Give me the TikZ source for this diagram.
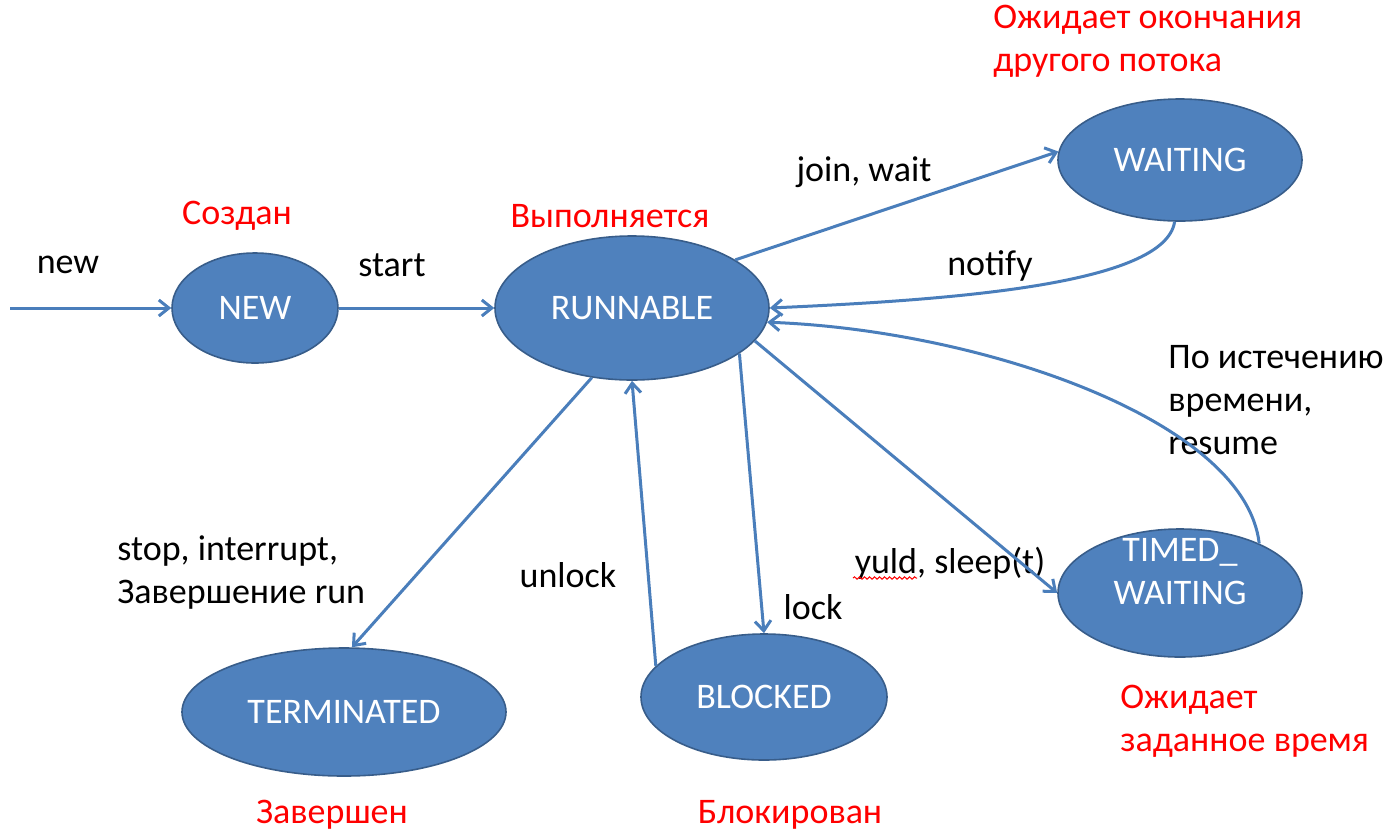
\documentclass[tikz,border=0pt]{standalone}
\usepackage{fontspec}
\setmainfont{Carlito}
\usetikzlibrary{shapes.geometric,arrows.meta,decorations.pathmorphing}
\definecolor{stfill}{RGB}{79,129,189}
\definecolor{stline}{RGB}{56,93,138}
\definecolor{arrline}{RGB}{74,126,187}

\begin{document}
\begin{tikzpicture}[x=0.5pt,y=-0.5pt,
  tstate/.style={ellipse, fill=stfill, draw=stline, line width=0.8pt, inner sep=0pt, text=white, font=\fontsize{18}{21.5}\selectfont},
  lbl/.style={inner sep=0pt, font=\fontsize{18}{21.5}\selectfont, align=left},
  note/.style={lbl, text=red},
  conn/.style={draw=arrline, line width=1.5pt, -{Straight Barb[length=5pt,width=8pt]}}]
\useasboundingbox (0,0) rectangle (1388,832);
\node[tstate, minimum width=83pt, minimum height=55pt] (new) at (255,308) {NEW};
\node[tstate, minimum width=137pt, minimum height=72pt] (run) at (632,308) {RUNNABLE};
\node[tstate, minimum width=122pt, minimum height=61pt] (wait) at (1180,160) {WAITING};
\node[tstate, minimum width=122pt, minimum height=64pt] (timed) at (1180,593) {};
\node[lbl, text=white, align=center] (timedtext) at (1180,572) {TIMED\_\\WAITING};
\node[tstate, minimum width=162pt, minimum height=64pt] (term) at (344,712) {TERMINATED};
\node[tstate, minimum width=123pt, minimum height=63pt] (block) at (764,697) {BLOCKED};
\coordinate (entry) at (10,308);
% labels
\node[lbl] (lnew) at (68,265) {new};
\node[lbl] (lstart) at (392,265) {start};
\node[lbl] (ljoin) at (864,172) {join, wait};
\node[lbl] (lnotify) at (990,266) {notify};
\node[lbl, anchor=west] (ltimeout) at (1168,400) {По истечению\\времени,\\resume};
\node[lbl, anchor=west] (lstop) at (117,573) {stop, interrupt,\\Завершение run};
\node[lbl] (lunlock) at (568,575) {unlock};
\node[lbl] (llock) at (813,607) {lock};
\node[lbl] (lsleep) at (950,563) {yuld, sleep(t)};
\draw[red, line width=0.5pt, decorate, decoration={snake, amplitude=0.6pt, segment length=2.5pt}] (853,578) -- (917,578);
% notes
\node[note] (ncreated) at (237,216) {Создан};
\node[note] (nrunning) at (610,216) {Выполняется};
\node[note, anchor=west] (nwaiting) at (993,41) {Ожидает окончания\\другого потока};
\node[note] (ndone) at (332,815) {Завершен};
\node[note] (nblocked) at (790,815) {Блокирован};
\node[note, anchor=west] (ntimed) at (1120,721) {Ожидает\\заданное время};
% connectors
\draw[conn] (entry) -- (new);
\draw[conn] (new) -- (run);
\draw[conn] (run.25) -- (wait.176);
\draw[conn] (wait.265) .. controls (1165,285) and (950,300) .. (run.east);
\draw[conn] (timed.32) .. controls (1245,420) and (980,330) .. (run.-6);
\draw[conn] (run.-15) -- (timed.west);
\draw[conn] (run.-23) -- (block.north);
\draw[conn] (block.164) -- (run.south);
\draw[conn] (run.-120) -- (term.83);
\end{tikzpicture}
\end{document}
